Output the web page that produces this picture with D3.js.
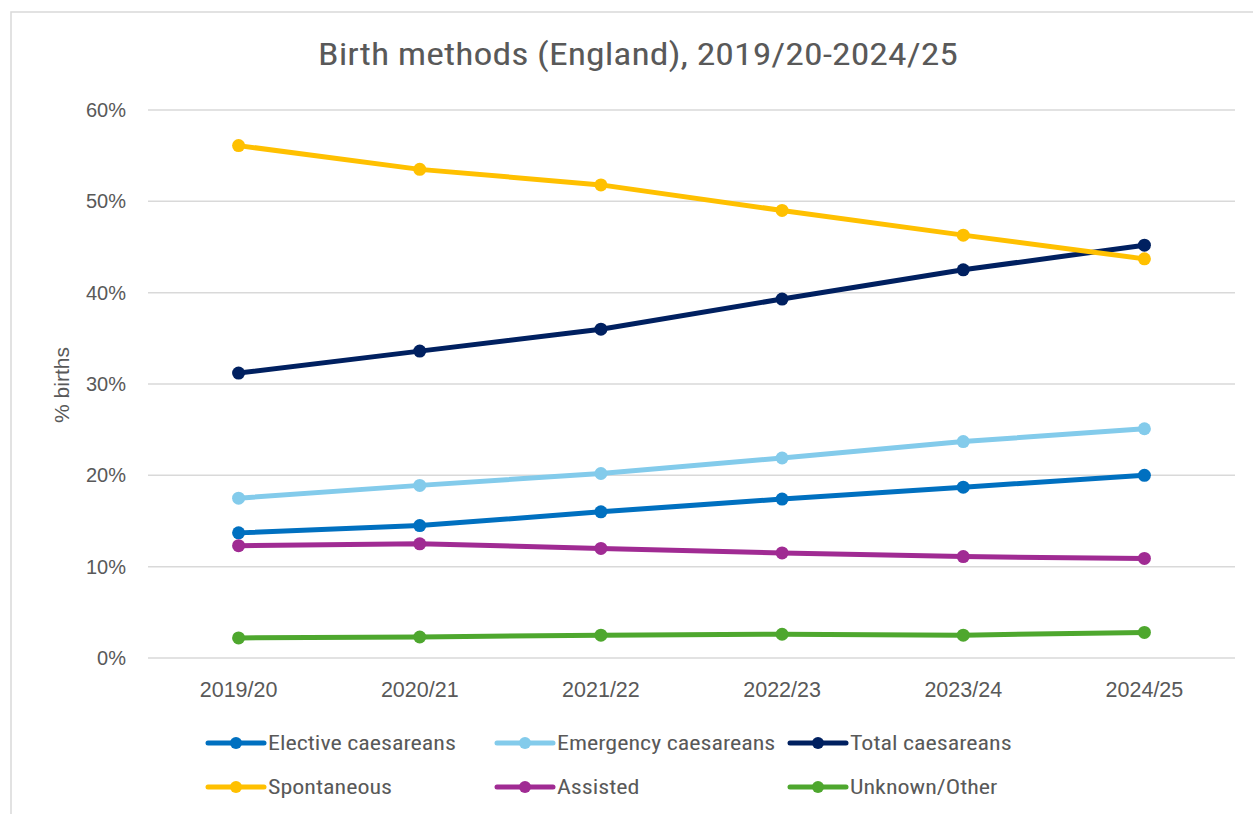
<!DOCTYPE html>
<html>
<head>
<meta charset="utf-8">
<script src="https://cdn.jsdelivr.net/npm/d3@7"></script>
<style>
  html, body { margin: 0; padding: 0; background: #fff; }
  svg { display: block; }
</style>
</head>
<body>
<svg id="chart" width="1253" height="814"></svg>
<script>
// Financial years on the x axis
const years = ["2019/20", "2020/21", "2021/22", "2022/23", "2023/24", "2024/25"];

// Share of births (%) by method
const elective    = [13.7, 14.5, 16.0, 17.4, 18.7, 20.0];
const emergency   = [17.5, 18.9, 20.2, 21.9, 23.7, 25.1];
const total       = [31.2, 33.6, 36.0, 39.3, 42.5, 45.2];
const spontaneous = [56.1, 53.5, 51.8, 49.0, 46.3, 43.7];
const assisted    = [12.3, 12.5, 12.0, 11.5, 11.1, 10.9];
const unknown     = [2.2, 2.3, 2.5, 2.6, 2.5, 2.8];

const seriesNames  = ["Elective caesareans", "Emergency caesareans", "Total caesareans",
                      "Spontaneous", "Assisted", "Unknown/Other"];
const seriesValues = [elective, emergency, total, spontaneous, assisted, unknown];
const seriesColors = ["#0070C0", "#83CBEB", "#002060", "#FFC000", "#A02B93", "#4EA72E"];

const yTicks = [0, 10, 20, 30, 40, 50, 60];

const svg = d3.select("#chart");
const W = 1253, H = 814;
const plot = { left: 148, right: 1235, top: 110, bottom: 658 };

const textColor = "#595959";
const narrow = "'Roboto Condensed', 'Liberation Sans Narrow', 'Arial Narrow', 'Liberation Sans', Arial, sans-serif";
const sans = "'Liberation Sans', Arial, sans-serif";

// Chart area frame
svg.append("rect")
  .attr("x", 11).attr("y", 12)
  .attr("width", W + 20).attr("height", H + 20)
  .attr("fill", "#fff")
  .attr("stroke", "#D9D9D9").attr("stroke-width", 1.5);

const x = d3.scaleBand().domain(years).range([plot.left, plot.right]);
const y = d3.scaleLinear().domain([0, 60]).range([plot.bottom, plot.top]);

// Horizontal gridlines
svg.append("g")
  .selectAll("line")
  .data(yTicks)
  .join("line")
  .attr("x1", plot.left).attr("x2", plot.right)
  .attr("y1", d => y(d)).attr("y2", d => y(d))
  .attr("stroke", "#D9D9D9").attr("stroke-width", 1.5);

// Y axis labels
const yAxis = svg.append("g")
  .attr("transform", `translate(${plot.left - 22},0)`)
  .call(d3.axisLeft(y).tickValues(yTicks).tickFormat(d => d + "%").tickSize(0).tickPadding(0));
yAxis.select(".domain").remove();
yAxis.selectAll("text")
  .attr("fill", textColor)
  .style("font-family", sans)
  .style("font-size", "20px");

// X axis labels
const xAxis = svg.append("g")
  .attr("transform", `translate(0,${plot.bottom})`)
  .call(d3.axisBottom(x).tickSize(0).tickPadding(0));
xAxis.select(".domain").remove();
xAxis.selectAll("text")
  .attr("fill", textColor)
  .attr("y", 39)
  .attr("dy", null)
  .style("font-family", sans)
  .style("font-size", "21.5px");

// Y axis title
svg.append("text")
  .attr("transform", `translate(69,385) rotate(-90)`)
  .attr("text-anchor", "middle")
  .attr("fill", textColor)
  .style("font-family", sans)
  .style("font-size", "21px")
  .text("% births");

// Title
svg.append("text")
  .attr("x", 638).attr("y", 65)
  .attr("text-anchor", "middle")
  .attr("fill", textColor)
  .attr("textLength", 640)
  .attr("lengthAdjust", "spacingAndGlyphs")
  .style("font-family", narrow)
  .style("font-size", "32px")
  .text("Birth methods (England), 2019/20-2024/25");

// Series lines and markers
const cx = d => x(d) + x.bandwidth() / 2;
const line = d3.line()
  .x((v, i) => cx(years[i]))
  .y(v => y(v));

seriesValues.forEach((vals, si) => {
  const g = svg.append("g");
  g.append("path")
    .datum(vals)
    .attr("d", line)
    .attr("fill", "none")
    .attr("stroke", seriesColors[si])
    .attr("stroke-width", 5)
    .attr("stroke-linejoin", "round");
  g.selectAll("circle")
    .data(vals)
    .join("circle")
    .attr("cx", (v, i) => cx(years[i]))
    .attr("cy", v => y(v))
    .attr("r", 6.5)
    .attr("fill", seriesColors[si]);
});

// Legend: two rows of three entries
const legendCols = [208, 497, 790];
const legendRows = [743, 787];
const legend = svg.append("g");
const legendTexts = [];
seriesNames.forEach((name, i) => {
  const lx = legendCols[i % 3];
  const ly = legendRows[Math.floor(i / 3)];
  const item = legend.append("g").attr("transform", `translate(${lx},${ly})`);
  item.append("line")
    .attr("x1", 0).attr("x2", 56)
    .attr("y1", 0).attr("y2", 0)
    .attr("stroke", seriesColors[i])
    .attr("stroke-width", 5)
    .attr("stroke-linecap", "round");
  item.append("circle")
    .attr("cx", 28).attr("cy", 0).attr("r", 6)
    .attr("fill", seriesColors[i]);
  legendTexts.push(item.append("text")
    .attr("x", 60).attr("y", 0)
    .attr("dy", "0.35em")
    .attr("fill", textColor)
    .style("font-family", narrow)
    .style("font-size", "20px")
    .text(name));
});
// Widen the legend labels with extra letter spacing
legendTexts.forEach(t => {
  const w = t.node().getComputedTextLength();
  t.attr("textLength", w * 1.2).attr("lengthAdjust", "spacingAndGlyphs");
});
</script>
</body>
</html>
